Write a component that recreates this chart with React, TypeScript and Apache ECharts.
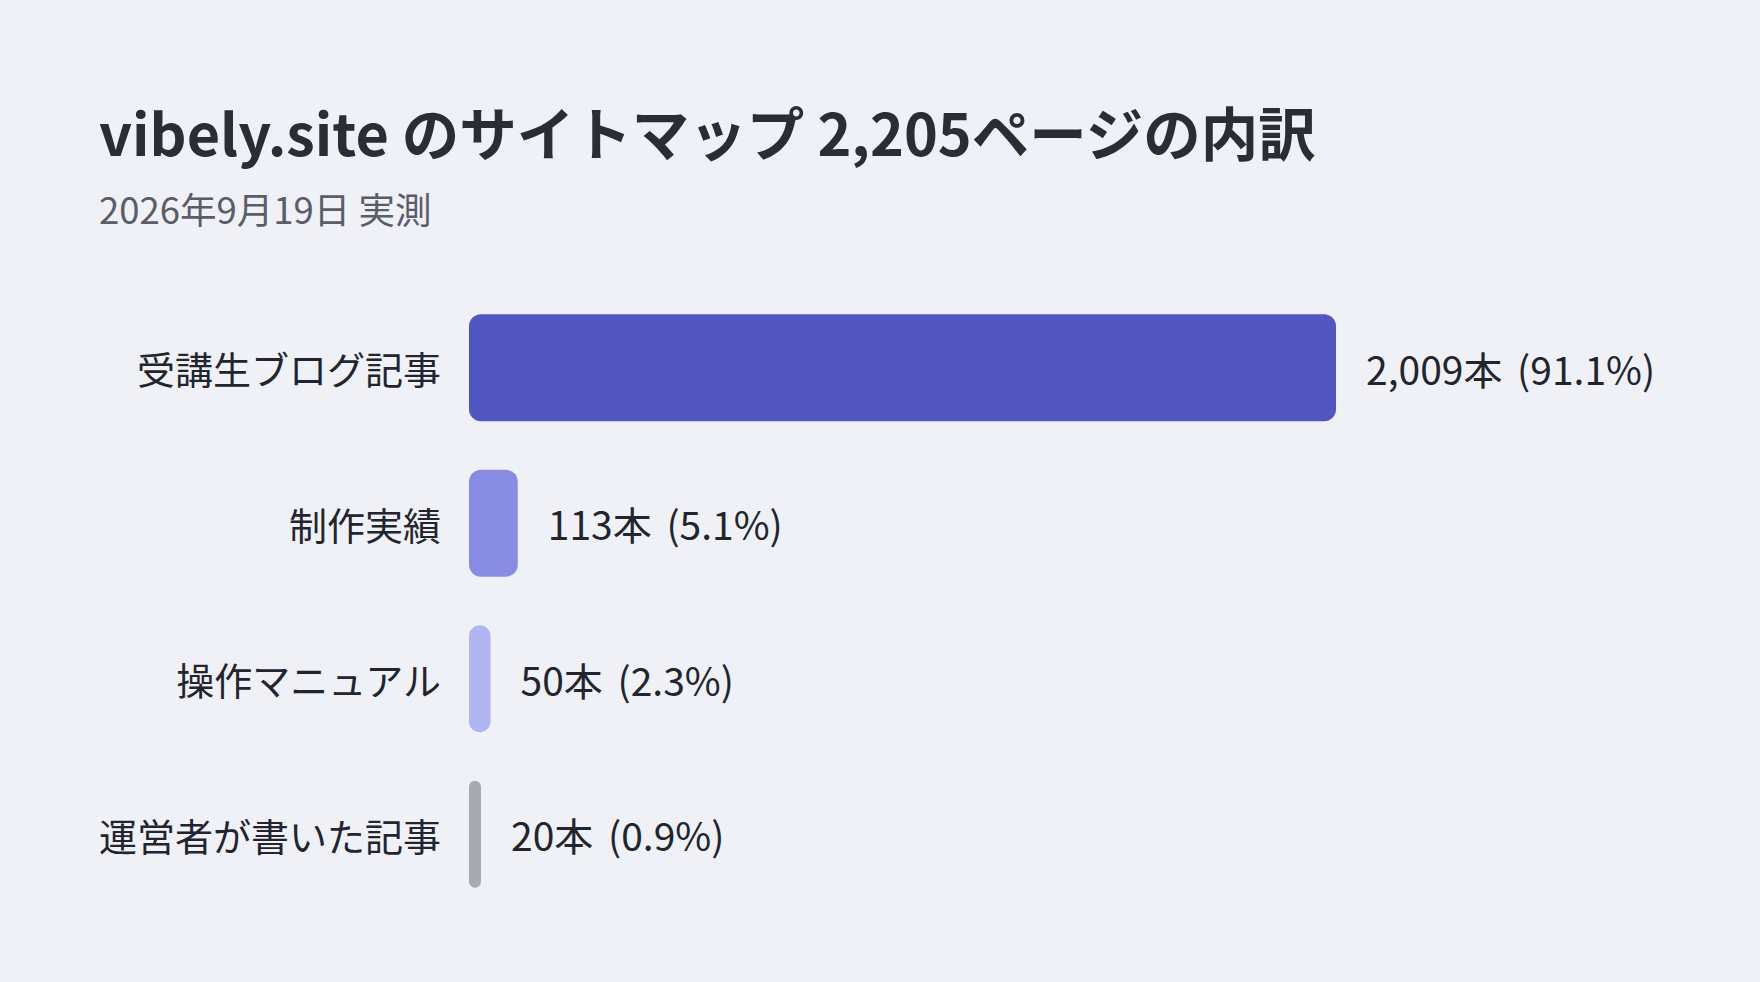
import { useEffect, useRef } from 'react';
import * as echarts from 'echarts';

const categories = ['受講生ブログ記事', '制作実績', '操作マニュアル', '運営者が書いた記事'];
const counts = [2009, 113, 50, 20];
const totalPages = 2205;
const barColors = ['#5355c1', '#878be2', '#b1b5f3', '#a9a9b4'];

const FONT = '"Noto Sans CJK JP", "Noto Sans", sans-serif';

export default function App() {
    const chartRef = useRef<HTMLDivElement>(null);

    useEffect(() => {
        if (!chartRef.current) return;
        const chart = echarts.init(chartRef.current, undefined, { renderer: 'svg' });

        const option = {
            animation: false,
            backgroundColor: '#f0f1f7',
            textStyle: { fontFamily: FONT },
            title: [
                {
                    text: 'vibely.site のサイトマップ 2,205ページの内訳',
                    left: 94,
                    top: 97,
                    textStyle: { fontFamily: FONT, fontSize: 57.5, fontWeight: 'bold', color: '#2a2c36' },
                },
                {
                    text: '2026年9月19日 実測',
                    left: 94,
                    top: 185,
                    textStyle: { fontFamily: FONT, fontSize: 36.5, fontWeight: 'normal', color: '#5a5d68' },
                },
            ],
            grid: { left: 469, right: 424, top: 290, bottom: 70 },
            xAxis: {
                type: 'value',
                min: 0,
                max: Math.max(...counts),
                show: false,
            },
            yAxis: {
                type: 'category',
                inverse: true,
                data: categories,
                axisLine: { show: false },
                axisTick: { show: false },
                axisLabel: { fontFamily: FONT, fontSize: 38, color: '#23252e', margin: 28 },
            },
            series: [
                {
                    type: 'bar',
                    barWidth: 107,
                    barMinHeight: 12,
                    data: counts.map((v, i) => ({
                        value: v,
                        itemStyle: { color: barColors[i], borderRadius: 12 },
                    })),
                    label: {
                        show: true,
                        position: 'right',
                        distance: 30,
                        formatter: (p: any) => {
                            const pct = ((p.value / totalPages) * 100).toFixed(1);
                            return `{v|${p.value.toLocaleString('en-US')}本} {p|(${pct}%)}`;
                        },
                        rich: {
                            v: { fontFamily: FONT, fontSize: 39, color: '#23252e' },
                            p: { fontFamily: FONT, fontSize: 39, color: '#23252e', padding: [0, 0, 0, 12] },
                        },
                    },
                },
            ],
        };

        chart.setOption(option);
        const onResize = () => chart.resize();
        window.addEventListener('resize', onResize);
        return () => {
            window.removeEventListener('resize', onResize);
            chart.dispose();
        };
    }, []);

    return <div ref={chartRef} style={{ position: 'fixed', left: 0, top: 0, width: 1760, height: 982 }} />;
}
